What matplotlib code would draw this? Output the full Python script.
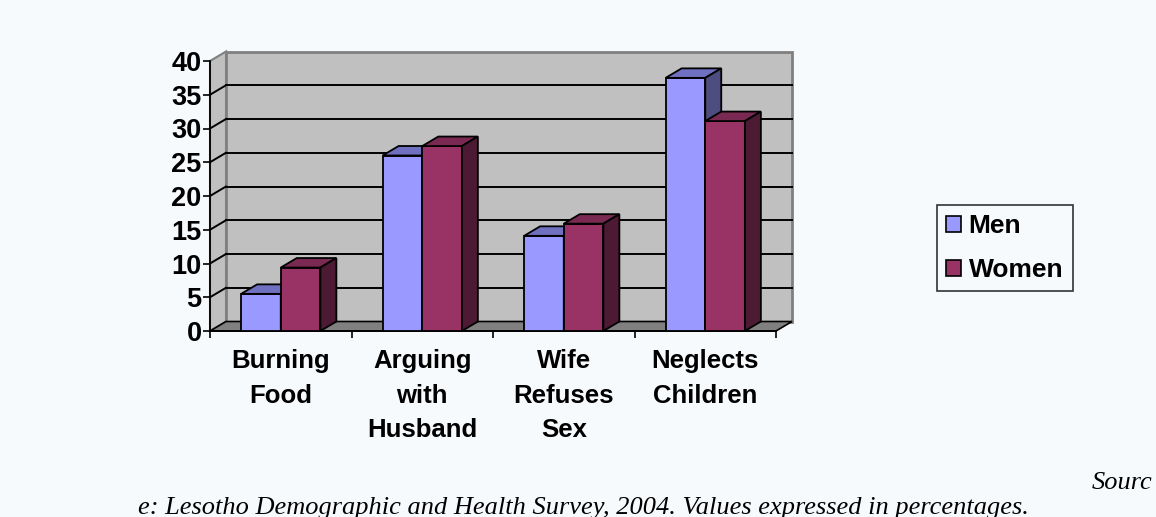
import matplotlib
matplotlib.use("Agg")
import matplotlib.pyplot as plt
from matplotlib.patches import Polygon, Patch

# data (percent)
categories = ["Burning\nFood", "Arguing\nwith\nHusband", "Wife\nRefuses\nSex", "Neglects\nChildren"]
men = [5.5, 26.0, 14.1, 37.5]
women = [9.4, 27.4, 15.9, 31.1]
series_names = ["Men", "Women"]
yticks = list(range(0, 45, 5))

BG = "#F7FAFD"
WALL = "#C0C0C0"
FLOOR = "#808080"
# front, top, side shades per series
MEN_C = ("#9999FF", "#7070C0", "#4D4D80")
WOMEN_C = ("#993366", "#7A2952", "#4D1A33")

plt.rcParams['font.family'] = ['Liberation Sans', 'DejaVu Sans']

fig = plt.figure(figsize=(11.56, 5.17), dpi=100, facecolor=BG)
# axes = front plane of the 3D box
ax = fig.add_axes([210 / 1156, 186 / 517, 566 / 1156, 270 / 517])
ax.patch.set_visible(False)
n = len(categories)
ax.set_xlim(0, n)
ax.set_ylim(0, 40)

# depth offset in data units (approx 16 px right, 9.5 px up)
dx = 16 / 566 * n
dy = 9.5 / 270 * 40


def poly(pts, fc, ec, lw, z):
    ax.add_patch(Polygon(pts, closed=True, facecolor=fc, edgecolor=ec,
                         linewidth=lw, zorder=z, clip_on=False, joinstyle='miter'))


# side wall, back wall, floor
poly([(0, 0), (0, 40), (dx, 40 + dy), (dx, dy)], WALL, FLOOR, 1.5, 0.5)
poly([(dx, dy), (dx, 40 + dy), (n + dx, 40 + dy), (n + dx, dy)], WALL, FLOOR, 2.0, 0.6)
for v in yticks[1:-1]:
    ax.plot([dx, n + dx], [v + dy, v + dy], color="black", lw=1.4, zorder=0.8, clip_on=False)
    ax.plot([0, dx], [v, v + dy], color="black", lw=1.4, zorder=0.8, clip_on=False)
poly([(0, 0), (n, 0), (n + dx, dy), (dx, dy)], FLOOR, "black", 1.2, 0.9)

# 3D bars
w = 0.28
for i in range(n):
    for j, (vals, cols) in enumerate([(men, MEN_C), (women, WOMEN_C)]):
        v = vals[i]
        x0 = i + 0.5 - w + j * w
        x1 = x0 + w
        z = 3 + i * 0.1 + j * 0.01
        poly([(x0, 0), (x1, 0), (x1, v), (x0, v)], cols[0], "black", 1.3, z)
        poly([(x0, v), (x1, v), (x1 + dx, v + dy), (x0 + dx, v + dy)], cols[1], "black", 1.3, z)
        poly([(x1, 0), (x1, v), (x1 + dx, v + dy), (x1 + dx, dy)], cols[2], "black", 1.3, z)

# axes styling
for s in ["top", "right"]:
    ax.spines[s].set_visible(False)
for s in ["left", "bottom"]:
    ax.spines[s].set_color("black")
    ax.spines[s].set_linewidth(1.3)
    ax.spines[s].set_zorder(1)

ax.set_yticks(yticks)
ax.set_yticklabels([str(t) for t in yticks], fontsize=19.5, fontweight="bold")
ax.tick_params(axis="y", length=5, width=1.2, direction="out", pad=1)

ax.set_xticks([i + 0.5 for i in range(n)])
ax.set_xticklabels(categories, fontsize=18.5, fontweight="bold", linespacing=1.55)
ax.set_xticks(range(n + 1), minor=True)
ax.tick_params(axis="x", which="major", length=0, pad=13)
ax.tick_params(axis="x", which="minor", length=5, width=1.2, direction="out")

# legend
handles = [Patch(facecolor=MEN_C[0], edgecolor="black", linewidth=1.2),
           Patch(facecolor=WOMEN_C[0], edgecolor="black", linewidth=1.2)]
leg = fig.legend(handles, series_names, loc="upper left",
                 bbox_to_anchor=(937 / 1156, 1 - 205 / 517),
                 prop={"size": 19, "weight": "bold"}, frameon=True, fancybox=False,
                 handlelength=0.55, handleheight=0.55, handletextpad=0.3,
                 borderpad=0.35, labelspacing=0.75, borderaxespad=0)
leg.get_frame().set_edgecolor("black")
leg.get_frame().set_facecolor(BG)
leg.get_frame().set_linewidth(1.2)

# source note
fig.text(1152 / 1156, 1 - 489 / 517, "Sourc", ha="right", va="baseline",
         fontsize=19, style="italic", family="Liberation Serif")
fig.text(583 / 1156, 1 - 514 / 517,
         "e: Lesotho Demographic and Health Survey, 2004. Values expressed in percentages.",
         ha="center", va="baseline", fontsize=19, style="italic", family="Liberation Serif")

fig.savefig("out.png", dpi=100, facecolor=BG)
